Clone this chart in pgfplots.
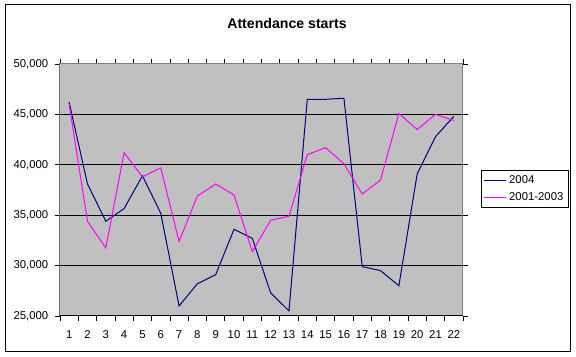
\documentclass[border=0pt]{standalone}
\usepackage{pgfplots}
\pgfplotsset{compat=1.18}
\usepackage{fontspec}
\setmainfont{Liberation Sans}
\definecolor{navyline}{RGB}{0,0,128}
\definecolor{magline}{RGB}{255,0,255}
\definecolor{plotbg}{RGB}{192,192,192}
\definecolor{pborder}{RGB}{128,128,128}
\begin{document}
\begin{tikzpicture}[x=1pt,y=1pt]
\path[use as bounding box] (0,0) rectangle (432,267.75);
\draw[black,line width=0.75pt] (3.75,3.75) rectangle (427.5,264);
\node[font=\fontsize{10.6}{12}\selectfont\bfseries] at (215.25,250.5) {Attendance starts};
\begin{axis}[
  at={(45pt,30.75pt)}, anchor=south west,
  scale only axis, width=302.25pt, height=189pt,
  xmin=0.5, xmax=22.5, ymin=25000, ymax=50000,
  xtick={1,...,22}, major x tick style={draw=none},
  minor xtick={0.5,1.5,...,22.5},
  ytick={25000,30000,...,50000},
  tick align=outside, major tick length=3.75pt, minor tick length=3.75pt,
  tick style={black, line width=0.6pt},
  ymajorgrids, grid style={black, line width=0.75pt},
  axis line style={pborder, line width=0.75pt},
  axis background/.style={fill=plotbg},
  scaled ticks=false,
  /pgf/number format/.cd, 1000 sep={,}, assume math mode=true,
  /pgfplots/.cd,
  ticklabel style={font=\fontsize{8.5}{10}\selectfont},
  yticklabel style={xshift=-1.5pt},
  xticklabel style={yshift=-3.5pt},
  legend style={at={(1.0447,0.5794)}, anchor=north west, draw=black, fill=white,
    line width=0.75pt, font=\fontsize{8.5}{10}\selectfont, inner xsep=1.5pt, inner ysep=2pt,
    row sep=1pt},
  legend cell align=left,
  legend image code/.code={\draw[#1] (0pt,0pt) -- (16.5pt,0pt);},
]
\addplot[navyline, line width=0.75pt] coordinates {
(1,46200) (2,38100) (3,34400) (4,35660) (5,38900) (6,35200) (7,26000) (8,28200)
(9,29100) (10,33600) (11,32700) (12,27300) (13,25500) (14,46500) (15,46500)
(16,46600) (17,29900) (18,29500) (19,28000) (20,39100) (21,42800) (22,44800)};
\addlegendentry{2004}
\addplot[magline, line width=0.75pt] coordinates {
(1,46000) (2,34400) (3,31750) (4,41200) (5,38800) (6,39700) (7,32400) (8,36900)
(9,38100) (10,37000) (11,31400) (12,34500) (13,34900) (14,41000) (15,41700)
(16,40100) (17,37100) (18,38500) (19,45100) (20,43500) (21,45000) (22,44400)};
\addlegendentry{2001-2003}
\draw[black, line width=0.75pt] (rel axis cs:0,1) -- (rel axis cs:0,0) -- (rel axis cs:1,0);
\end{axis}
\end{tikzpicture}
\end{document}
